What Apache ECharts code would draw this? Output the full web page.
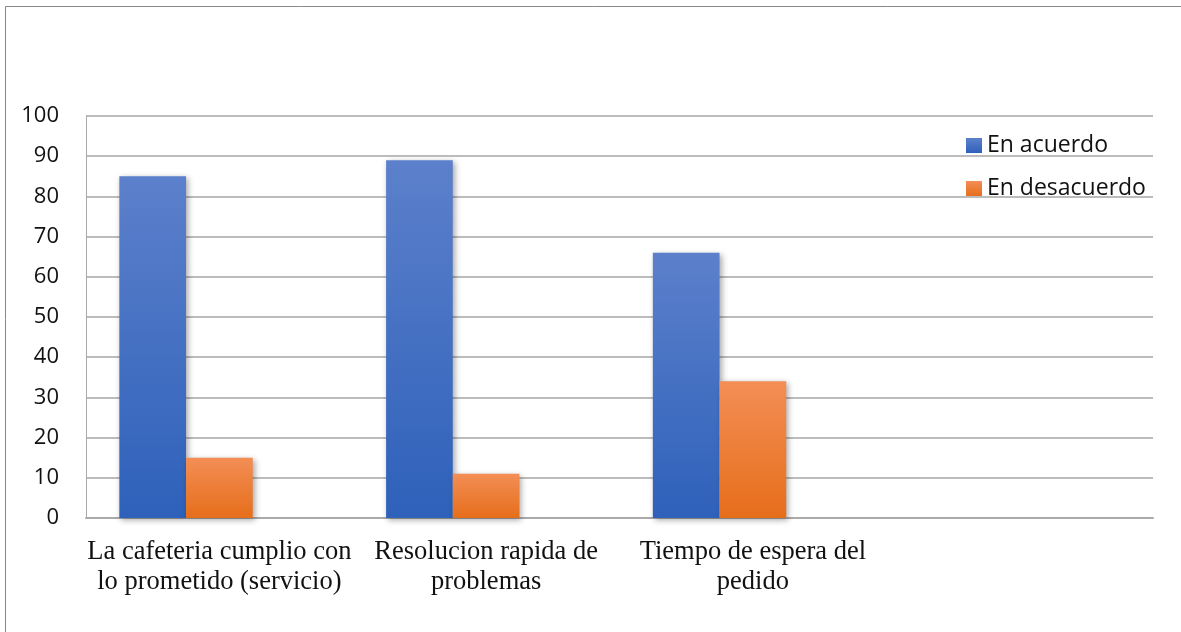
<!DOCTYPE html>
<html>
<head>
<meta charset="utf-8">
<script src="https://cdn.jsdelivr.net/npm/echarts@6/dist/echarts.min.js"></script>
<style>
  html, body { margin: 0; padding: 0; background: #fff; }
  #chart { width: 1181px; height: 632px; }
</style>
</head>
<body>
<div id="chart"></div>
<script>
// Survey categories (the last slot is left empty on purpose)
const categories = [
  'La cafeteria cumplio con\nlo prometido (servicio)',
  'Resolucion rapida de\nproblemas',
  'Tiempo de espera del\npedido',
  ''
];
const acuerdo = [85, 89, 66, null];
const desacuerdo = [15, 11, 34, null];
// third, unlabeled series slot that stays empty
const vacio = [null, null, null, null];
const yTicks = [0, 10, 20, 30, 40, 50, 60, 70, 80, 90, 100];

const chart = echarts.init(document.getElementById('chart'));

function grad(top, bottom) {
  return new echarts.graphic.LinearGradient(0, 0, 0, 1, [
    { offset: 0, color: top },
    { offset: 1, color: bottom }
  ]);
}
const shadow = {
  shadowBlur: 6,
  shadowColor: 'rgba(0,0,0,0.35)',
  shadowOffsetX: 2,
  shadowOffsetY: 2
};

chart.setOption({
  animation: false,
  backgroundColor: '#fff',
  graphic: [{
    type: 'polyline',
    shape: { points: [[5.5, 640], [5.5, 6.5], [1190, 6.5]] },
    style: { stroke: '#888', lineWidth: 1, fill: null },
    silent: true
  }],
  grid: { left: 86, right: 28, top: 116, bottom: 114, containLabel: false },
  legend: {
    data: ['En acuerdo', 'En desacuerdo'],
    orient: 'vertical',
    left: 966,
    top: 134,
    padding: 0,
    itemWidth: 16,
    itemHeight: 15,
    itemGap: 20,
    icon: 'rect',
    textStyle: {
      fontFamily: '"Open Sans", "Noto Sans", sans-serif',
      fontSize: 23,
      lineHeight: 23,
      color: '#111',
      padding: [0, 0, 0, 0]
    }
  },
  xAxis: {
    type: 'category',
    data: categories,
    axisLine: { show: true, lineStyle: { color: '#aaa', width: 2 } },
    axisTick: { show: false },
    axisLabel: {
      interval: 0,
      margin: 19,
      fontFamily: '"Liberation Serif", "Times New Roman", serif',
      fontSize: 26.5,
      lineHeight: 30,
      color: '#111'
    },
    splitLine: { show: false }
  },
  yAxis: {
    type: 'value',
    min: yTicks[0],
    max: yTicks[yTicks.length - 1],
    interval: 10,
    axisLine: { show: true, lineStyle: { color: '#aaa', width: 1 } },
    axisTick: { show: false },
    axisLabel: {
      margin: 27,
      fontFamily: '"Open Sans", "Noto Sans", sans-serif',
      fontSize: 22,
      color: '#111'
    },
    splitLine: { show: true, lineStyle: { color: '#a6a6a6', width: 1.5 } }
  },
  series: [
    {
      name: 'En acuerdo',
      type: 'bar',
      data: acuerdo,
      barGap: '0%',
      barCategoryGap: '25%',
      itemStyle: Object.assign({ color: grad('#5c80cb', '#2e61ba') }, shadow)
    },
    {
      name: 'En desacuerdo',
      type: 'bar',
      data: desacuerdo,
      itemStyle: Object.assign({ color: grad('#f38e55', '#e66e1b') }, shadow)
    },
    {
      name: '',
      type: 'bar',
      data: vacio
    }
  ]
});
</script>
</body>
</html>
